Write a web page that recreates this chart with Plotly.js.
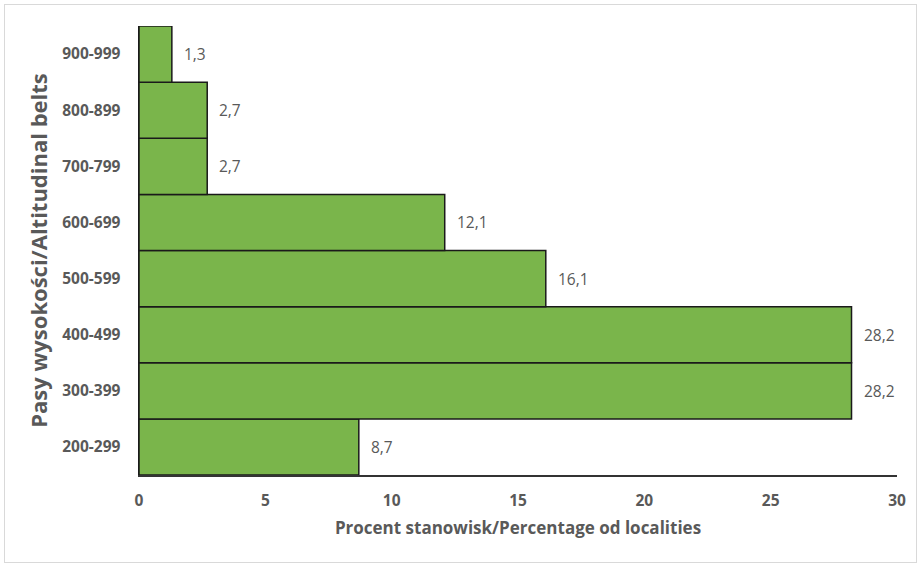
<!DOCTYPE html>
<html>
<head>
<meta charset="utf-8">
<script src="https://cdn.plot.ly/plotly-3.0.1.min.js"></script>
<style>
html,body{margin:0;padding:0;background:#fff;}
#wrap{position:relative;width:921px;height:567px;}
#chart{width:921px;height:567px;}
#frame{position:absolute;left:4px;top:4px;width:913px;height:559px;border:1px solid #d9d9d9;box-sizing:border-box;pointer-events:none;}
</style>
</head>
<body>
<div id="wrap"><div id="chart"></div><div id="frame"></div></div>
<script>
const categories = ["200-299","300-399","400-499","500-599","600-699","700-799","800-899","900-999"];
const values = [8.7, 28.2, 28.2, 16.1, 12.1, 2.7, 2.7, 1.3];
const labels = ["8,7","28,2","28,2","16,1","12,1","2,7","2,7","1,3"];
const xTicks = [0,5,10,15,20,25,30];

const FONT = "Open Sans, Noto Sans, sans-serif";
const GRAY = "#595959";

const trace = {
  type: "bar",
  orientation: "h",
  y: categories,
  x: values,
  marker: {color: "#7AB54B", line: {color: "#1a1a1a", width: 1.5}},
  hoverinfo: "none"
};

const annotations = categories.map((c, i) => ({
  x: values[i], y: c, xref: "x", yref: "y",
  text: labels[i], showarrow: false,
  xanchor: "left", yanchor: "middle", xshift: 10,
  font: {family: FONT, size: 15.5, color: GRAY}
}));

const layout = {
  width: 921, height: 567,
  margin: {l: 139, r: 24, t: 26, b: 92},
  paper_bgcolor: "#fff", plot_bgcolor: "#fff",
  bargap: 0,
  showlegend: false,
  separators: ",.",
  xaxis: {
    range: [0, 30], tickvals: xTicks, ticktext: xTicks.map(String),
    showgrid: false, zeroline: false,
    showline: true, linecolor: "#333", linewidth: 1.5,
    ticks: "outside", ticklen: 11, tickcolor: "rgba(0,0,0,0)",
    tickfont: {family: FONT, size: 15.5, color: GRAY, weight: "bold"},
    title: {text: "Procent stanowisk/Percentage od localities", standoff: 12,
            font: {family: FONT, size: 17, color: GRAY, weight: "bold"}}
  },
  yaxis: {
    type: "category", range: [-0.5, 7.5],
    showgrid: false, zeroline: false,
    showline: true, linecolor: "#1a1a1a", linewidth: 1.5,
    ticks: "outside", ticklen: 14, tickcolor: "rgba(0,0,0,0)",
    tickfont: {family: FONT, size: 15.5, color: GRAY, weight: "bold"},
    title: {text: "Pasy wysokości/Altitudinal belts", standoff: 8,
            font: {family: FONT, size: 22, color: GRAY, weight: "bold"}}
  },
  annotations: annotations
};

Plotly.newPlot("chart", [trace], layout, {displayModeBar: false, staticPlot: true});
</script>
</body>
</html>
